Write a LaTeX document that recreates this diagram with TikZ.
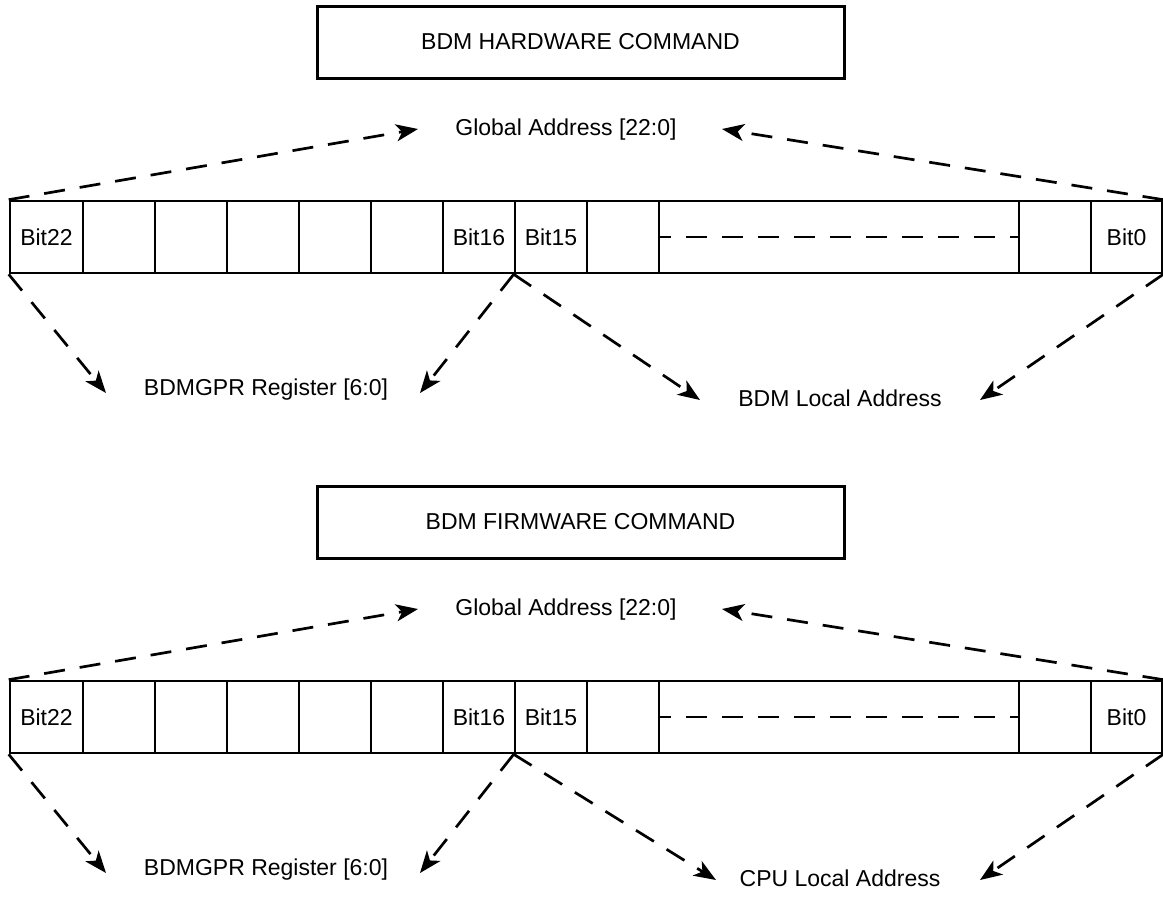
\documentclass[tikz,border=0pt]{standalone}
\usepackage{fontspec}
\setmainfont{Liberation Sans}
\usetikzlibrary{arrows.meta}
\begin{document}
\begin{tikzpicture}[x=1pt,y=-1pt,
  txt/.style={font=\fontsize{23}{27}\selectfont},
  titlebox/.style={txt,draw,line width=3pt,minimum width=527pt,minimum height=72pt,inner sep=0pt},
  cell/.style={txt,draw,line width=2.6pt,minimum height=72pt,minimum width=72pt,inner sep=0pt},
  lbl/.style={txt,inner sep=0pt,anchor=base},
  dline/.style={line width=2.7pt,dash pattern=on 21pt off 15pt},
  darrow/.style={dline,-{Stealth[length=22pt,width=17pt,inset=6pt]}}]
\useasboundingbox (0,0) rectangle (1163,897);
\foreach \p/\dy/\ttl/\loc/\lx in {h/0/BDM HARDWARE COMMAND/BDM Local Address/700,
                                  f/480/BDM FIRMWARE COMMAND/CPU Local Address/716}{
  \node[titlebox] (\p title) at (580.5,{42+\dy}) {\ttl};
  \node[lbl] (\p glob) at (566,{135+\dy}) {Global Address [22:0]};
  \node[cell,minimum width=73pt] (\p c1) at (46.5,{237+\dy}) {Bit22};
  \node[cell] (\p c2) at (119,{237+\dy}) {};
  \node[cell] (\p c3) at (191,{237+\dy}) {};
  \node[cell] (\p c4) at (263,{237+\dy}) {};
  \node[cell] (\p c5) at (335,{237+\dy}) {};
  \node[cell] (\p c6) at (407,{237+\dy}) {};
  \node[cell] (\p c7) at (479,{237+\dy}) {Bit16};
  \node[cell] (\p c8) at (551,{237+\dy}) {Bit15};
  \node[cell] (\p c9) at (623,{237+\dy}) {};
  \node[cell,minimum width=360pt] (\p c10) at (839,{237+\dy}) {};
  \node[cell] (\p c11) at (1055,{237+\dy}) {};
  \node[cell,minimum width=71pt] (\p c12) at (1126.5,{237+\dy}) {Bit0};
  \draw[dline,dash phase=7.5pt] (\p c10.west) -- (\p c10.east);
  \node[lbl] (\p gpr) at (266,{395+\dy}) {BDMGPR Register [6:0]};
  \node[lbl] (\p loc) at (840,{406+\dy}) {\loc};
  \coordinate (\p gl) at (418,{129+\dy});
  \coordinate (\p gr) at (722,{129+\dy});
  \coordinate (\p b1) at (106,{393+\dy});
  \coordinate (\p b2) at (420,{393+\dy});
  \coordinate (\p l1) at (\lx,{400+\dy});
  \coordinate (\p l2) at (980,{400+\dy});
  \draw[darrow] (\p c1.north west) -- (\p gl);
  \draw[darrow] (\p c12.north east) -- (\p gr);
  \draw[darrow] (\p c1.south west) -- (\p b1);
  \draw[darrow] (\p c8.south west) -- (\p b2);
  \draw[darrow] (\p c8.south west) -- (\p l1);
  \draw[darrow] (\p c12.south east) -- (\p l2);
}
\end{tikzpicture}
\end{document}
